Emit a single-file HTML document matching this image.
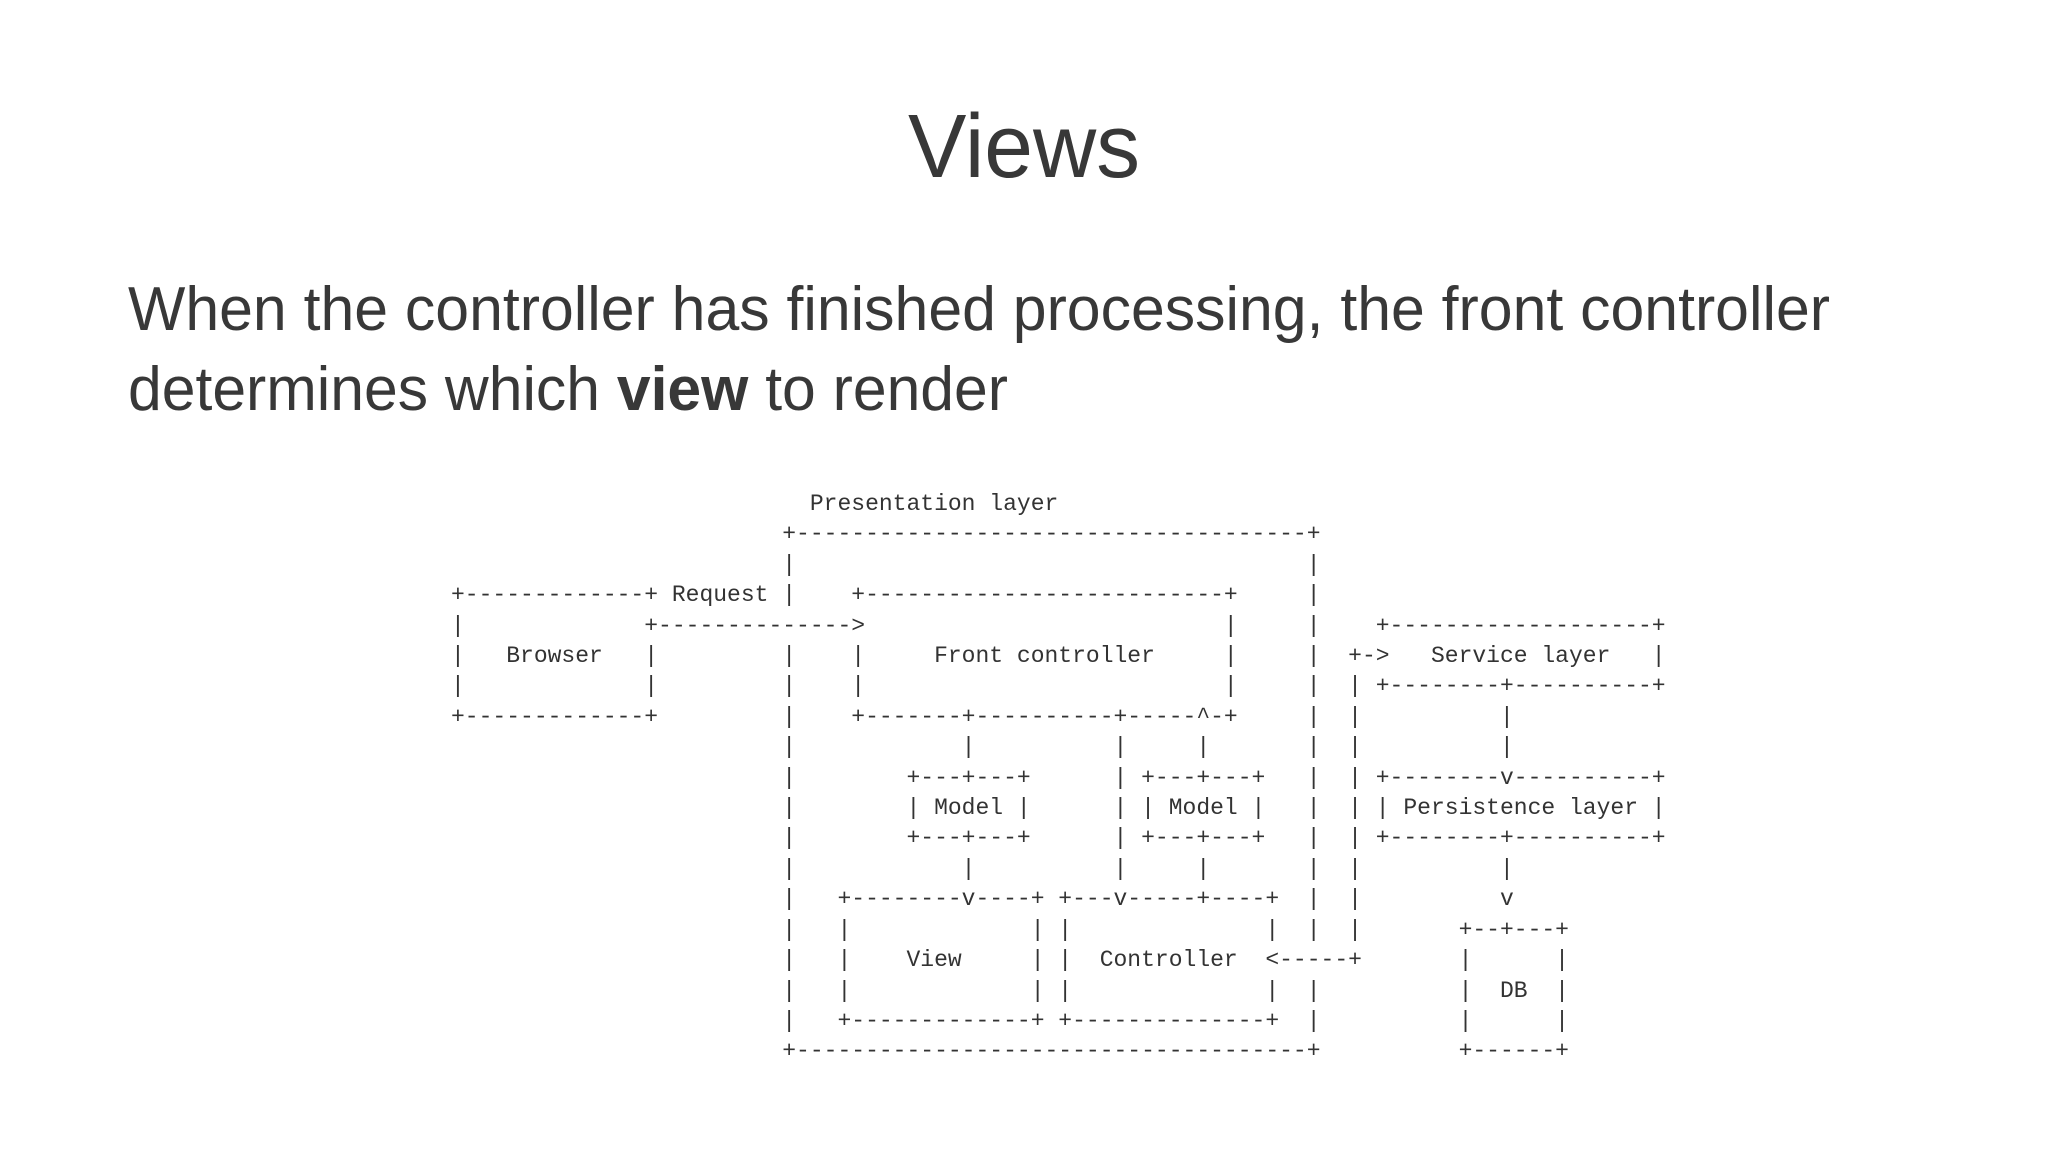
<!DOCTYPE html>
<html><head><meta charset="utf-8"><style>
html,body{margin:0;padding:0;background:#fff;}
body{width:2048px;height:1152px;position:relative;overflow:hidden;}
svg{position:absolute;left:0;top:0;}
pre{position:absolute;left:451px;top:489px;margin:0;font-family:"Liberation Mono",monospace;font-size:23px;line-height:30.4px;color:#333;}
</style></head><body>
<svg width="2048" height="1152">
<text x="1024" y="177" text-anchor="middle" font-family="Liberation Sans, sans-serif" font-size="90" fill="#383838" textLength="232" lengthAdjust="spacingAndGlyphs">Views</text>
<text x="128" y="330" font-family="Liberation Sans, sans-serif" font-size="62" fill="#383838" textLength="1702" lengthAdjust="spacingAndGlyphs">When the controller has finished processing, the front controller</text>
<text x="128" y="410" font-family="Liberation Sans, sans-serif" font-size="62" fill="#383838" textLength="880" lengthAdjust="spacingAndGlyphs">determines which <tspan font-weight="bold">view</tspan> to render</text>
</svg>
<pre>                          Presentation layer
                        +-------------------------------------+
                        |                                     |
+-------------+ Request |    +--------------------------+     |
|             +--------------&gt;                          |     |    +-------------------+
|   Browser   |         |    |     Front controller     |     |  +-&gt;   Service layer   |
|             |         |    |                          |     |  | +--------+----------+
+-------------+         |    +-------+----------+-----^-+     |  |          |
                        |            |          |     |       |  |          |
                        |        +---+---+      | +---+---+   |  | +--------v----------+
                        |        | Model |      | | Model |   |  | | Persistence layer |
                        |        +---+---+      | +---+---+   |  | +--------+----------+
                        |            |          |     |       |  |          |
                        |   +--------v----+ +---v-----+----+  |  |          v
                        |   |             | |              |  |  |       +--+---+
                        |   |    View     | |  Controller  &lt;-----+       |      |
                        |   |             | |              |  |          |  DB  |
                        |   +-------------+ +--------------+  |          |      |
                        +-------------------------------------+          +------+</pre>
</body></html>
